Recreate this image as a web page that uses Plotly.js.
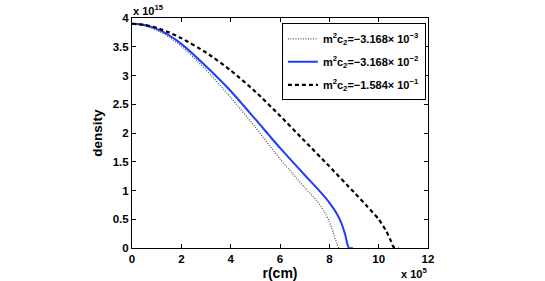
<!DOCTYPE html>
<html>
<head>
<meta charset="utf-8">
<script src="https://cdn.plot.ly/plotly-3.0.1.min.js"></script>
<style>html,body{margin:0;padding:0;background:#fff;}#chart{width:545px;height:281px;}</style>
</head>
<body>
<div id="chart"></div>
<script>
// r in units of 1e5 cm, density in units of 1e15
const rDotted = [0, 0.5, 1, 1.5, 2, 3, 4, 5, 6, 6.5, 7, 7.5, 7.8, 8.0, 8.15, 8.3, 8.38];
const dDotted = [3.90, 3.87, 3.79, 3.67, 3.51, 3.10, 2.62, 2.10, 1.55, 1.30, 1.05, 0.82, 0.63, 0.46, 0.28, 0.08, 0];
const rBlue = [0, 0.5, 1, 1.5, 2, 3, 4, 5, 6, 7, 7.5, 8, 8.3, 8.5, 8.65, 8.75, 8.8, 8.95];
const dBlue = [3.90, 3.88, 3.81, 3.70, 3.55, 3.16, 2.73, 2.24, 1.74, 1.27, 1.04, 0.79, 0.60, 0.42, 0.22, 0.04, 0, 0];
const rDash = [0, 0.5, 1, 1.5, 2, 3, 4, 5, 6, 7, 8, 9, 9.5, 10, 10.3, 10.5, 10.6, 10.8];
const dDash = [3.90, 3.88, 3.83, 3.75, 3.65, 3.40, 3.09, 2.72, 2.30, 1.86, 1.42, 0.97, 0.74, 0.50, 0.30, 0.12, 0.02, 0];
const seriesNames = [
  "m<sup>2</sup>c<sub>2</sub>=−3.168× 10<sup>−3</sup>",
  "m<sup>2</sup>c<sub>2</sub>=−3.168× 10<sup>−2</sup>",
  "m<sup>2</sup>c<sub>2</sub>=−1.584× 10<sup>−1</sup>"
];
const xTicks = [0, 2, 4, 6, 8, 10, 12];
const yTicks = [0, 0.5, 1, 1.5, 2, 2.5, 3, 3.5, 4];

const FONT = "Liberation Sans, Arial, sans-serif";
const traces = [
  {x: rDotted, y: dDotted, name: seriesNames[0], mode: "lines", legendgroup: "a",
   line: {color: "#555555", width: 1.3, dash: "1px,1.5px", shape: "spline", smoothing: 0.6}},
  {x: rBlue, y: dBlue, name: seriesNames[1], mode: "lines", legendgroup: "b",
   line: {color: "#1f3cff", width: 2, shape: "spline", smoothing: 0.6}},
  {x: rDash, y: dDash, name: seriesNames[2], mode: "lines", legendgroup: "c",
   line: {color: "#000000", width: 2.2, dash: "4px,3px", shape: "spline", smoothing: 0.6}}
];
const axisCommon = {
  showgrid: false, zeroline: false, showline: true, linecolor: "#000", linewidth: 1,
  mirror: "ticks", ticks: "inside", ticklen: 4, tickcolor: "#000",
  tickfont: {family: FONT, size: 11.5, color: "#000", weight: "bold"}
};
const layout = {
  width: 545, height: 281,
  margin: {l: 132, r: 117, t: 18, b: 33, pad: 0},
  paper_bgcolor: "#fff", plot_bgcolor: "#fff",
  showlegend: true,
  legend: {x: 0.993, y: 0.977, xanchor: "right", yanchor: "top",
    bgcolor: "#fff", bordercolor: "#000", borderwidth: 1, tracegroupgap: 4,
    itemwidth: 30,
    font: {family: FONT, size: 11, color: "#000", weight: "bold"}},
  xaxis: Object.assign({}, axisCommon, {range: [0, 12], tickvals: xTicks,
    ticktext: xTicks.map(String),
    title: {text: "r(cm)", font: {family: FONT, size: 14, color: "#000", weight: "bold"}, standoff: 1}}),
  yaxis: Object.assign({}, axisCommon, {range: [0, 4], tickvals: yTicks,
    ticktext: yTicks.map(String),
    title: {text: "density", font: {family: FONT, size: 13.5, color: "#000", weight: "bold"}, standoff: 6}}),
  annotations: [
    {text: "x 10<sup>15</sup>", xref: "paper", yref: "paper", x: 0, y: 1, xanchor: "left", yanchor: "bottom",
     showarrow: false, font: {family: FONT, size: 11, color: "#000", weight: "bold"}, borderpad: 0},
    {text: "x 10<sup>5</sup>", xref: "paper", yref: "paper", x: 0.953, y: -0.072, xanchor: "center", yanchor: "top",
     showarrow: false, font: {family: FONT, size: 11, color: "#000", weight: "bold"}, borderpad: 0}
  ]
};
Plotly.newPlot("chart", traces, layout, {displayModeBar: false, staticPlot: true});
</script>
</body>
</html>
